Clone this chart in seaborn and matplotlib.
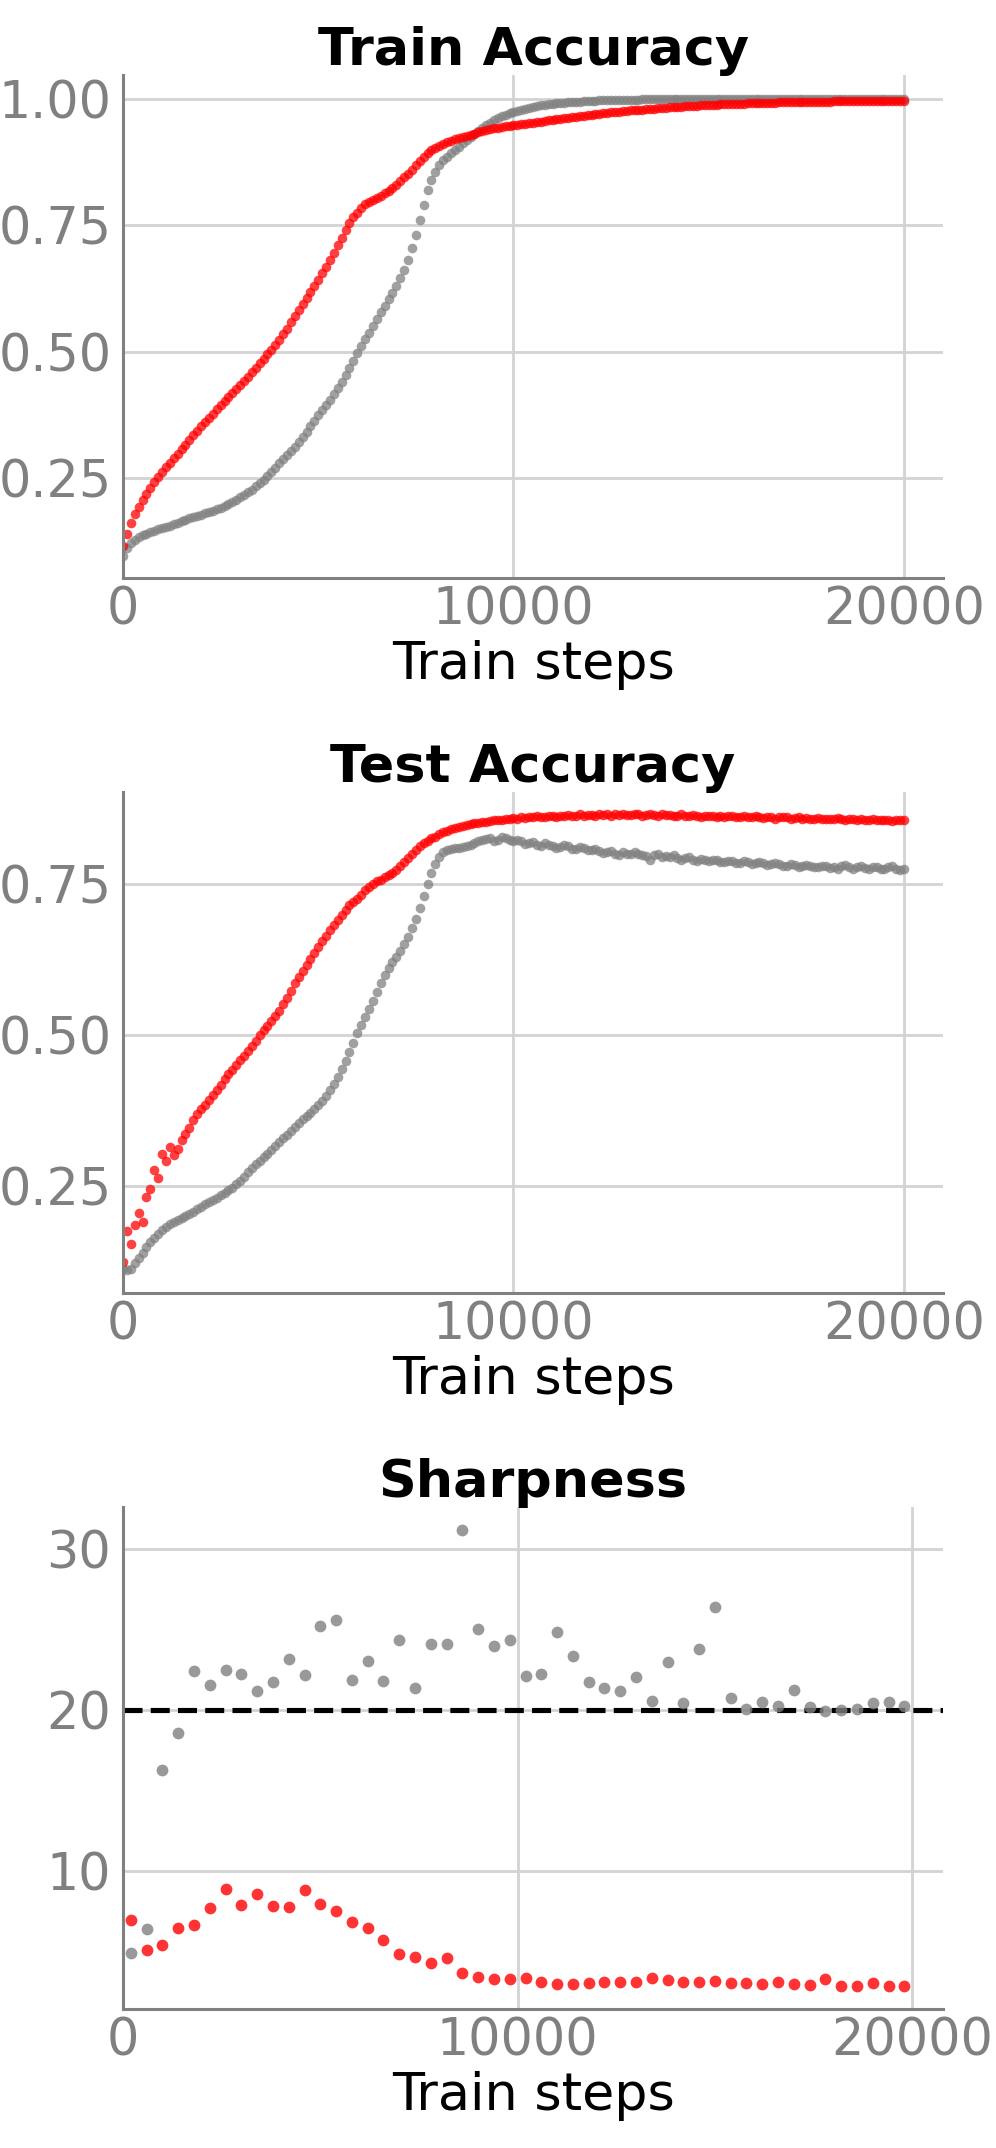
import numpy as np
import matplotlib
matplotlib.use("Agg")
import matplotlib.pyplot as plt
import seaborn as sns

# ---------------- data ----------------
steps = np.arange(0, 20001, 100)

# each row covers 1000 train steps (10 samples, every 100 steps)
train_gray = [
    0.095, 0.112, 0.122, 0.128, 0.133, 0.137, 0.140, 0.143, 0.145, 0.148,
    0.150, 0.152, 0.155, 0.158, 0.161, 0.164, 0.167, 0.170, 0.172, 0.175,
    0.177, 0.180, 0.182, 0.185, 0.188, 0.191, 0.195, 0.199, 0.203, 0.207,
    0.212, 0.217, 0.222, 0.227, 0.233, 0.239, 0.245, 0.253, 0.262, 0.270,
    0.280, 0.288, 0.296, 0.304, 0.312, 0.321, 0.330, 0.341, 0.352, 0.363,
    0.375, 0.385, 0.395, 0.405, 0.415, 0.427, 0.440, 0.453, 0.467, 0.482,
    0.497, 0.511, 0.525, 0.537, 0.550, 0.564, 0.578, 0.590, 0.603, 0.616,
    0.629, 0.645, 0.662, 0.682, 0.705, 0.730, 0.760, 0.790, 0.820, 0.840,
    0.856, 0.868, 0.878, 0.885, 0.892, 0.899, 0.905, 0.912, 0.918, 0.924,
    0.930, 0.936, 0.942, 0.948, 0.953, 0.957, 0.961, 0.965, 0.968, 0.971,
    0.974, 0.976, 0.978, 0.980, 0.982, 0.984, 0.985, 0.987, 0.988, 0.989,
    0.990, 0.991, 0.992, 0.992, 0.993, 0.993, 0.994, 0.994, 0.995, 0.995,
    0.996, 0.996, 0.997, 0.997, 0.997, 0.997, 0.998, 0.998, 0.998, 0.998,
    0.998, 0.998, 0.998, 0.999, 0.999, 0.999, 0.999, 0.999, 0.999, 0.999,
    0.999, 0.999, 0.999, 0.999, 0.999, 0.999, 0.999, 0.999, 0.999, 0.999,
    0.999, 0.999, 0.999, 0.999, 0.999, 0.999, 0.999, 0.999, 0.999, 0.999,
    1.000, 1.000, 1.000, 1.000, 1.000, 1.000, 1.000, 1.000, 1.000, 1.000,
    1.000, 1.000, 1.000, 1.000, 1.000, 1.000, 1.000, 1.000, 1.000, 1.000,
    1.000, 1.000, 1.000, 1.000, 1.000, 1.000, 1.000, 1.000, 1.000, 1.000,
    1.000, 1.000, 1.000, 1.000, 1.000, 1.000, 1.000, 1.000, 1.000, 1.000,
    1.000]

train_red = [
    0.115, 0.140, 0.160, 0.178, 0.193, 0.206, 0.218, 0.230, 0.241, 0.251,
    0.261, 0.271, 0.280, 0.289, 0.298, 0.307, 0.315, 0.325, 0.334, 0.343,
    0.352, 0.360, 0.368, 0.377, 0.386, 0.394, 0.402, 0.410, 0.418, 0.426,
    0.434, 0.442, 0.450, 0.459, 0.468, 0.477, 0.486, 0.495, 0.504, 0.513,
    0.523, 0.534, 0.545, 0.558, 0.570, 0.582, 0.594, 0.606, 0.618, 0.630,
    0.642, 0.655, 0.668, 0.681, 0.694, 0.710, 0.725, 0.741, 0.755, 0.766,
    0.775, 0.784, 0.791, 0.796, 0.800, 0.804, 0.808, 0.813, 0.818, 0.823,
    0.829, 0.837, 0.845, 0.852, 0.860, 0.868, 0.876, 0.885, 0.892, 0.898,
    0.903, 0.907, 0.910, 0.914, 0.917, 0.920, 0.922, 0.924, 0.926, 0.929,
    0.931, 0.934, 0.936, 0.938, 0.940, 0.942, 0.943, 0.945, 0.946, 0.947,
    0.948, 0.949, 0.950, 0.951, 0.952, 0.953, 0.954, 0.955, 0.956, 0.957,
    0.958, 0.959, 0.960, 0.961, 0.962, 0.963, 0.964, 0.965, 0.966, 0.967,
    0.968, 0.969, 0.970, 0.971, 0.972, 0.973, 0.974, 0.974, 0.975, 0.976,
    0.977, 0.977, 0.978, 0.978, 0.979, 0.980, 0.980, 0.981, 0.982, 0.982,
    0.983, 0.983, 0.984, 0.984, 0.985, 0.985, 0.986, 0.986, 0.987, 0.987,
    0.988, 0.988, 0.988, 0.989, 0.989, 0.989, 0.990, 0.990, 0.990, 0.990,
    0.991, 0.991, 0.991, 0.991, 0.992, 0.992, 0.992, 0.992, 0.993, 0.993,
    0.993, 0.993, 0.993, 0.993, 0.994, 0.994, 0.994, 0.994, 0.994, 0.994,
    0.994, 0.994, 0.995, 0.995, 0.995, 0.995, 0.995, 0.995, 0.995, 0.995,
    0.995, 0.995, 0.995, 0.995, 0.995, 0.995, 0.995, 0.995, 0.995, 0.995,
    0.995]

test_gray = [
    0.112, 0.110, 0.112, 0.121, 0.130, 0.139, 0.148, 0.156, 0.163, 0.170,
    0.177, 0.182, 0.186, 0.190, 0.193, 0.197, 0.200, 0.203, 0.207, 0.211,
    0.215, 0.219, 0.223, 0.226, 0.230, 0.234, 0.238, 0.242, 0.246, 0.252,
    0.258, 0.265, 0.272, 0.279, 0.285, 0.291, 0.297, 0.303, 0.309, 0.316,
    0.322, 0.328, 0.334, 0.340, 0.347, 0.354, 0.360, 0.366, 0.371, 0.377,
    0.383, 0.390, 0.398, 0.408, 0.418, 0.430, 0.443, 0.457, 0.472, 0.487,
    0.502, 0.516, 0.530, 0.543, 0.556, 0.571, 0.586, 0.598, 0.610, 0.620,
    0.629, 0.639, 0.650, 0.662, 0.676, 0.692, 0.710, 0.730, 0.750, 0.767,
    0.782, 0.795, 0.803, 0.806, 0.808, 0.809, 0.810, 0.811, 0.812, 0.815,
    0.818, 0.820, 0.822, 0.824, 0.825, 0.821, 0.823, 0.827, 0.826, 0.822,
    0.821, 0.823, 0.820, 0.816, 0.818, 0.819, 0.815, 0.812, 0.817, 0.814,
    0.813, 0.809, 0.811, 0.814, 0.812, 0.808, 0.808, 0.811, 0.810, 0.806,
    0.806, 0.808, 0.805, 0.801, 0.803, 0.805, 0.800, 0.797, 0.802, 0.800,
    0.799, 0.802, 0.800, 0.798, 0.796, 0.790, 0.797, 0.799, 0.794, 0.796,
    0.795, 0.797, 0.792, 0.790, 0.793, 0.795, 0.790, 0.788, 0.791, 0.789,
    0.788, 0.790, 0.789, 0.786, 0.786, 0.788, 0.787, 0.784, 0.785, 0.787,
    0.786, 0.783, 0.784, 0.786, 0.785, 0.781, 0.782, 0.784, 0.783, 0.780,
    0.780, 0.782, 0.781, 0.778, 0.779, 0.781, 0.780, 0.777, 0.778, 0.780,
    0.779, 0.776, 0.777, 0.774, 0.779, 0.781, 0.777, 0.775, 0.778, 0.779,
    0.776, 0.775, 0.777, 0.778, 0.775, 0.774, 0.777, 0.779, 0.775, 0.773,
    0.774]

test_red = [
    0.124, 0.175, 0.154, 0.185, 0.204, 0.190, 0.231, 0.245, 0.275, 0.262,
    0.303, 0.290, 0.314, 0.300, 0.311, 0.326, 0.336, 0.346, 0.358, 0.368,
    0.377, 0.384, 0.391, 0.400, 0.408, 0.417, 0.426, 0.434, 0.442, 0.450,
    0.458, 0.465, 0.473, 0.481, 0.490, 0.499, 0.508, 0.515, 0.523, 0.531,
    0.540, 0.550, 0.560, 0.573, 0.585, 0.596, 0.606, 0.616, 0.625, 0.635,
    0.645, 0.655, 0.664, 0.673, 0.681, 0.690, 0.698, 0.706, 0.714, 0.720,
    0.725, 0.732, 0.739, 0.745, 0.750, 0.754, 0.757, 0.761, 0.765, 0.768,
    0.772, 0.779, 0.786, 0.793, 0.800, 0.806, 0.812, 0.817, 0.821, 0.825,
    0.828, 0.832, 0.835, 0.838, 0.840, 0.842, 0.844, 0.846, 0.848, 0.849,
    0.850, 0.851, 0.852, 0.853, 0.854, 0.855, 0.856, 0.856, 0.857, 0.858,
    0.859, 0.858, 0.860, 0.859, 0.861, 0.860, 0.862, 0.860, 0.861, 0.863,
    0.862, 0.861, 0.863, 0.862, 0.864, 0.862, 0.863, 0.865, 0.863, 0.864,
    0.864, 0.863, 0.865, 0.864, 0.865, 0.863, 0.865, 0.864, 0.866, 0.864,
    0.864, 0.865, 0.865, 0.863, 0.864, 0.866, 0.864, 0.863, 0.865, 0.864,
    0.864, 0.862, 0.863, 0.865, 0.863, 0.862, 0.864, 0.863, 0.861, 0.863,
    0.862, 0.863, 0.861, 0.862, 0.860, 0.862, 0.863, 0.861, 0.860, 0.862,
    0.860, 0.861, 0.862, 0.860, 0.859, 0.861, 0.860, 0.858, 0.860, 0.861,
    0.860, 0.858, 0.859, 0.860, 0.858, 0.859, 0.857, 0.858, 0.859, 0.857,
    0.858, 0.857, 0.857, 0.859, 0.857, 0.856, 0.858, 0.857, 0.856, 0.857,
    0.856, 0.855, 0.857, 0.856, 0.855, 0.856, 0.855, 0.854, 0.856, 0.855,
    0.855]

sharp_steps = np.arange(200, 20000, 400)
sharp_gray = [4.92, 6.43, 16.26, 18.59, 22.40, 21.55, 22.48, 22.23, 21.16, 21.76,
              23.19, 22.19, 25.21, 25.56, 21.86, 23.06, 21.78, 24.36, 21.39, 24.07,
              24.07, 31.19, 25.01, 23.95, 24.34, 22.11, 22.23, 24.82, 23.35, 21.74,
              21.34, 21.20, 22.05, 20.54, 23.00, 20.45, 23.78, 26.39, 20.74, 20.04,
              20.52, 20.25, 21.24, 20.21, 19.96, 20.00, 20.04, 20.45, 20.48, 20.23]
sharp_red = [6.95, 5.13, 5.40, 6.47, 6.64, 7.71, 8.87, 7.92, 8.56, 7.82,
             7.76, 8.83, 7.96, 7.51, 6.87, 6.45, 5.75, 4.86, 4.70, 4.28,
             4.59, 3.68, 3.41, 3.33, 3.33, 3.39, 3.14, 3.02, 3.00, 3.08,
             3.10, 3.12, 3.14, 3.37, 3.25, 3.14, 3.12, 3.18, 3.08, 3.04,
             2.98, 3.12, 2.98, 2.94, 3.29, 2.90, 2.90, 3.06, 2.87, 2.87]
sharp_threshold = 20

titles = ["Train Accuracy", "Test Accuracy", "Sharpness"]
x_label = "Train steps"
x_ticks = [0, 10000, 20000]
train_yticks = [0.25, 0.50, 0.75, 1.00]
test_yticks = [0.25, 0.50, 0.75]
sharp_yticks = [10, 20, 30]

# ---------------- style ----------------
sns.set_style("whitegrid")
plt.rcParams['font.family'] = ['DejaVu Sans']

GRAY = "#808080"
RED = "#ff0000"
GRID = "#d3d3d3"
FS = 36.5
FS_LABEL = 37.7

fig = plt.figure(figsize=(9.96, 21.48), dpi=100)
W, H = 996.0, 2148.0
left, right = 123, 943
panels_px = [(75, 578), (792, 1293), (1507, 2009)]
axes = [fig.add_axes([left / W, 1 - b / H, (right - left) / W, (b - t) / H])
        for (t, b) in panels_px]


def style(ax, title, yticks, ylim, xlim):
    ax.set_title(title, fontsize=FS_LABEL, fontweight='bold', pad=7.0, color='black')
    ax.set_xlabel(x_label, fontsize=FS_LABEL, labelpad=3.5, color='black')
    ax.set_ylabel("")
    ax.set_xticks(x_ticks)
    ax.set_yticks(yticks)
    ax.set_xlim(xlim)
    ax.set_ylim(ylim)
    ax.tick_params(axis='both', length=0, labelsize=FS, labelcolor=GRAY)
    ax.tick_params(axis='x', pad=5.4)
    ax.tick_params(axis='y', pad=8.4)
    ax.grid(True, color=GRID, linewidth=2.0)
    for s in ['top', 'right']:
        ax.spines[s].set_visible(False)
    for s in ['left', 'bottom']:
        ax.spines[s].set_visible(True)
        ax.spines[s].set_color(GRAY)
        ax.spines[s].set_linewidth(2.2)
    ax.set_axisbelow(True)


acc_kw = dict(s=48, alpha=0.75, linewidth=0)

ax = axes[0]
sns.scatterplot(x=steps, y=train_gray, color=GRAY, ax=ax, **acc_kw)
sns.scatterplot(x=steps, y=train_red, color=RED, ax=ax, **acc_kw)
style(ax, titles[0], train_yticks, (0.052, 1.047), (0, 21000))

ax = axes[1]
sns.scatterplot(x=steps, y=test_gray, color=GRAY, ax=ax, **acc_kw)
sns.scatterplot(x=steps, y=test_red, color=RED, ax=ax, **acc_kw)
style(ax, titles[1], test_yticks, (0.072, 0.902), (0, 21000))

ax = axes[2]
ax.axhline(sharp_threshold, color='black', linestyle='--', linewidth=3.7, zorder=1.5)
sns.scatterplot(x=sharp_steps, y=sharp_gray, color=GRAY, ax=ax,
                s=72, alpha=0.8, linewidth=0, zorder=3)
sns.scatterplot(x=sharp_steps, y=sharp_red, color=RED, ax=ax,
                s=72, alpha=0.8, linewidth=0, zorder=3)
style(ax, titles[2], sharp_yticks, (1.45, 32.6), (0, 20780))

fig.savefig("out.png", dpi=100)
